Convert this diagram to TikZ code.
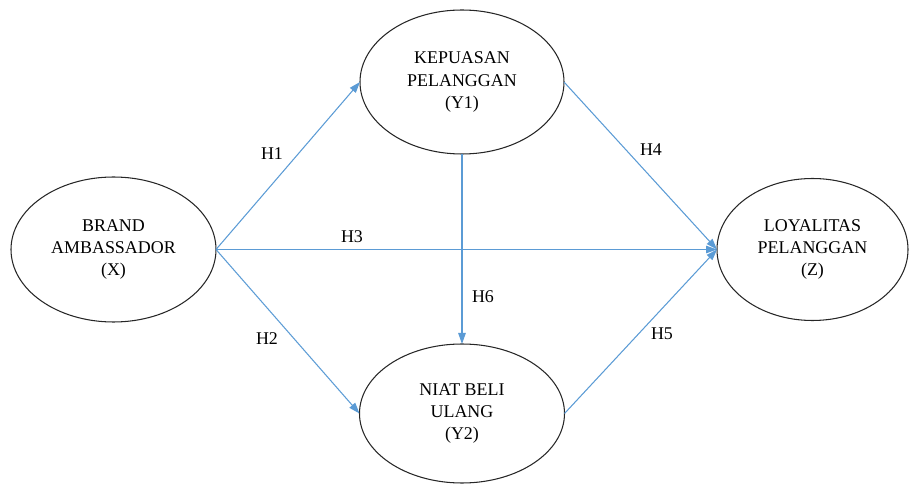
\documentclass[tikz,border=0pt]{standalone}
\usepackage{fontspec}
\setmainfont{Liberation Serif}
\usetikzlibrary{shapes.geometric,arrows.meta}
\definecolor{arrowblue}{RGB}{91,155,213}
\begin{document}
\begin{tikzpicture}[font=\fontsize{10.2}{12.6}\selectfont]
    \tikzstyle{varnode}=[draw=black!85, ellipse, line width=0.6pt, inner sep=0pt, outer sep=0pt, align=center]
    \tikzstyle{path}=[draw=arrowblue, line width=0.6pt, -{Triangle[length=2.2mm,width=1.5mm]}]
    \tikzstyle{hlabel}=[inner sep=1pt]

    \useasboundingbox (0,0) rectangle (18.18,-9.68);

    \node[varnode, minimum width=4.1cm, minimum height=2.9cm] (x) at (2.27,-4.99) {BRAND\\AMBASSADOR\\(X)};
    \node[varnode, minimum width=4.08cm, minimum height=2.88cm] (y1) at (9.24,-1.64) {KEPUASAN\\PELANGGAN\\(Y1)};
    \node[varnode, minimum width=4.1cm, minimum height=2.78cm] (y2) at (9.24,-8.27) {NIAT BELI\\ULANG\\(Y2)};
    \node[varnode, minimum width=3.82cm, minimum height=2.84cm] (z) at (16.25,-4.99) {LOYALITAS\\PELANGGAN\\(Z)};

    \draw[path] (x.east) -- (y1.west);
    \draw[path] (x.east) -- (y2.west);
    \draw[path] (x.east) -- (z.west);
    \draw[path] (y1.south) -- (y2.north);
    \draw[path] (y1.east) -- (z.west);
    \draw[path] (y2.east) -- (z.west);

    \node[hlabel] (h1) at (5.44,-3.08) {H1};
    \node[hlabel] (h2) at (5.34,-6.78) {H2};
    \node[hlabel] (h3) at (7.04,-4.74) {H3};
    \node[hlabel] (h4) at (13.02,-3.0) {H4};
    \node[hlabel] (h5) at (13.24,-6.68) {H5};
    \node[hlabel] (h6) at (9.66,-5.94) {H6};
  \end{tikzpicture}
\end{document}
